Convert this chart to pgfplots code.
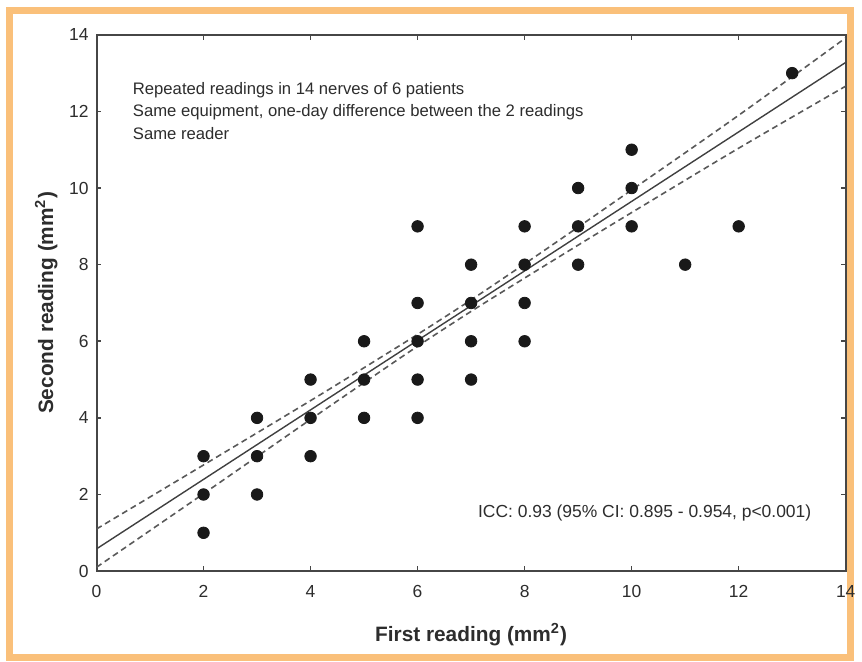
\documentclass[border=0pt]{standalone}
\usepackage{pgfplots}
\pgfplotsset{compat=1.18}
\usepackage{fontspec}
\setmainfont{Liberation Sans}
\definecolor{frameorange}{RGB}{250,192,122}
\definecolor{axgray}{RGB}{70,70,70}
\definecolor{txtgray}{RGB}{45,45,45}

\begin{document}
\begin{tikzpicture}[x=1bp,y=1bp]
% page extent (862x664 px at 0.5bp per px, axis box origin at px (97,574))
\fill[white] (-48.5,-45) rectangle (382.5,287);
\draw[frameorange, line width=3.5bp] (-43.5,-43.5) rectangle (379,281.5);

\begin{axis}[
    at={(0,0)}, anchor=south west,
    scale only axis, width=376.5bp, height=269.5bp,
    xmin=0, xmax=14, ymin=0, ymax=14,
    xtick={0,2,...,14}, ytick={0,2,...,14},
    tick align=inside, major tick length=2.5bp,
    axis line style={axgray, line width=1bp},
    tick style={axgray, line width=0.8bp},
    tick label style={font=\fontsize{8.8}{10}\selectfont, text=txtgray},
    /pgf/number format/assume math mode=true,
    xticklabel style={yshift=-3.5bp},
    yticklabel style={xshift=-0.5bp},
    xlabel={First reading (mm\textsuperscript{2})},
    ylabel={Second reading (mm\textsuperscript{2})},
    label style={font=\bfseries\fontsize{10.5}{12}\selectfont, text=txtgray},
    xlabel style={yshift=-6bp},
    ylabel style={yshift=-1bp},
    clip=true,
]
% observations
\addplot[only marks, mark=*, mark size=2.9bp, color=black!90] coordinates {
(2,3)(2,2)(2,1)(3,4)(3,3)(3,2)(4,5)(4,4)(4,3)(5,6)(5,5)(5,4)
(6,9)(6,7)(6,6)(6,5)(6,4)(7,8)(7,7)(7,6)(7,5)(8,9)(8,8)(8,7)(8,6)
(9,10)(9,9)(9,8)(10,11)(10,10)(10,9)(11,8)(12,9)(13,13)};
% regression line
\addplot[no marks, color=black!75, line width=0.7bp] coordinates {(0,0.58)(14,13.28)};
% 95% confidence band
\addplot[no marks, dashed, dash pattern=on 3bp off 2bp, color=black!65, line width=0.8bp, smooth] coordinates {
(0,1.10)(2,2.77)(4,4.45)(5,5.31)(6,6.18)(7,7.08)(8,8.02)(9,8.98)(10,9.95)(12,11.90)(14,13.92)};
\addplot[no marks, dashed, dash pattern=on 3bp off 2bp, color=black!65, line width=0.8bp, smooth] coordinates {
(0,0.10)(2,2.02)(4,3.96)(5,4.92)(6,5.87)(7,6.78)(8,7.65)(9,8.51)(10,9.36)(12,11.04)(14,12.66)};

\node[anchor=north west, align=left, font=\fontsize{8.4}{11.5}\selectfont, text=txtgray]
  at (axis cs:0.55,12.95) {Repeated readings in 14 nerves of 6 patients\\
  Same equipment, one-day difference between the 2 readings\\
  Same reader};
\node[anchor=west, font=\fontsize{8.8}{10}\selectfont, text=txtgray]
  at (axis cs:7.0,1.53) {ICC: 0.93 (95\% CI: 0.895 - 0.954, p<0.001)};
\end{axis}
\end{tikzpicture}
\end{document}
